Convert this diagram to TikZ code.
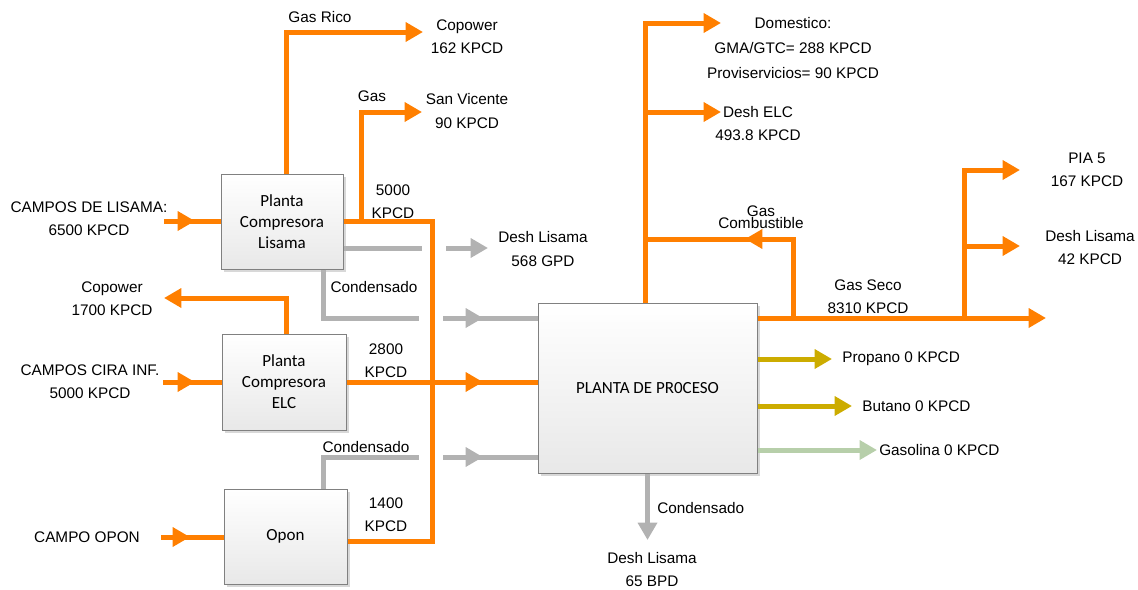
\documentclass[tikz,border=0pt]{standalone}
\usepackage{fontspec}
\setmainfont{Liberation Sans}
\newfontfamily\boxfont{Carlito}
\usetikzlibrary{arrows.meta,shadows,calc}
\definecolor{orflow}{RGB}{255,127,0}
\definecolor{grflow}{RGB}{178,178,178}
\definecolor{olflow}{RGB}{204,172,0}
\definecolor{gnflow}{RGB}{183,207,170}
\definecolor{boxgray}{RGB}{128,128,128}
\begin{document}
\begin{tikzpicture}[x=0.75pt,y=-0.75pt,
  tri/.tip={Triangle[length=13pt,width=14pt]},
  box/.style={draw=boxgray, line width=0.75pt, top color=white, bottom color=black!9,
    drop shadow={shadow xshift=2.25pt, shadow yshift=-2.25pt, fill=black!30, opacity=0.5},
    font=\boxfont\fontsize{12.75}{15.75}\selectfont, align=center, inner sep=0pt},
  of/.style={draw=orflow, line width=3.75pt},
  gf/.style={draw=grflow, line width=3.75pt},
  yf/.style={draw=olflow, line width=3.75pt},
  nf/.style={draw=gnflow, line width=3.75pt},
  lbl/.style={font=\fontsize{11.5}{17.5}\selectfont, align=center, inner sep=0pt},
]
\useasboundingbox (0,0) rectangle (1138,589);

% boxes
\node[box, minimum width=91.5pt, minimum height=71.25pt] (lis) at (282,221.5) {Planta\\Compresora\\Lisama};
\node[box, minimum width=93pt, minimum height=72pt] (elc) at (284,382) {Planta\\Compresora\\ELC};
\node[box, minimum width=92.25pt, minimum height=71.25pt] (opon) at (285.5,536.5) {Opon};
\node[box, minimum width=164.25pt, minimum height=127.5pt] (proc) at (647.5,388) {PLANTA DE PR0CESO};

% coordinates
\coordinate (cop162) at (423,32);
\coordinate (svJ) at (361,221);
\coordinate (svTip) at (422,112);
\coordinate (vTop) at (432,221);
\coordinate (vBot) at (432,541);
\coordinate (elcTip) at (483,382);
\coordinate (in1s) at (164,221);
\coordinate (in1t) at (195,221);
\coordinate (in2s) at (163,382);
\coordinate (in2t) at (195,382);
\coordinate (in3s) at (161,537);
\coordinate (in3t) at (190,537);
\coordinate (cop1700) at (164,298);
\coordinate (g1a) at (422,248);
\coordinate (g1b) at (446,248);
\coordinate (g1tip) at (488,248);
\coordinate (c1a) at (419,318);
\coordinate (c1b) at (443,318);
\coordinate (c1tip) at (483,318);
\coordinate (c2a) at (419,457);
\coordinate (c2b) at (443,457);
\coordinate (c2tip) at (483,457);
\coordinate (pbTip) at (647.5,540);
\coordinate (domTip) at (721,23);
\coordinate (j1) at (645,112);
\coordinate (delcTip) at (721,112);
\coordinate (gcJ) at (793,318);
\coordinate (gcTip) at (745,239);
\coordinate (gcEnd) at (645,239);
\coordinate (gsTip) at (1046,318);
\coordinate (pJ) at (964,318);
\coordinate (piaTip) at (1020,170);
\coordinate (pJ2) at (964,246);
\coordinate (dlTip) at (1020,246);
\coordinate (propTip) at (832,359);
\coordinate (butTip) at (852,406);
\coordinate (gasoTip) at (877,450);

% gray flows
\draw[gf] (lis.east |- g1a) -- (g1a);
\draw[gf,-tri] (g1b) -- (g1tip);
\draw[gf] ([xshift=30.75pt]lis.south) |- (c1a);
\draw[gf] (c1b) -- (proc.west |- c1tip);
\draw[gf,-tri] (c1b) -- (c1tip);
\draw[gf] ([xshift=28.125pt]opon.north) |- (c2a);
\draw[gf] (c2b) -- (proc.west |- c2tip);
\draw[gf,-tri] (c2b) -- (c2tip);
\draw[gf,-tri] (proc.south) -- (pbTip);

% orange flows left
\draw[of] (in1s) -- (lis.west |- in1t);
\draw[of,-tri] (in1s) -- (in1t);
\draw[of] (in2s) -- (elc.west |- in2t);
\draw[of,-tri] (in2s) -- (in2t);
\draw[of] (in3s) -- (opon.west |- in3t);
\draw[of,-tri] (in3s) -- (in3t);
\draw[of,-tri] ([xshift=3pt]lis.north) |- (cop162);
\draw[of,-tri] (svJ) |- (svTip);
\draw[of,line join=miter] (lis.east |- vTop) -- (vTop) -- (vBot) -- (opon.east |- vBot);
\draw[of] (elc.east) -- (proc.west |- elcTip);
\draw[of,-tri] (elc.east) -- (elcTip);
\draw[of,-tri] ([xshift=1.5pt]elc.north) |- (cop1700);

% orange flows right
\draw[of,-tri] ([xshift=-1.875pt]proc.north) |- (domTip);
\draw[of,-tri] (j1) -- (delcTip);
\draw[of,line join=miter] (gcJ) |- (gcEnd);
\draw[of,-tri] (gcJ) |- (gcTip);
\draw[of,-tri] (proc.east |- gsTip) -- (gsTip);
\draw[of,-tri] (pJ) |- (piaTip);
\draw[of,-tri] (pJ2) -- (dlTip);

% products
\draw[yf,-tri] (proc.east |- propTip) -- (propTip);
\draw[yf,-tri] (proc.east |- butTip) -- (butTip);
\draw[nf,-tri] (proc.east |- gasoTip) -- (gasoTip);

% labels
\node[lbl] (tGasRico) at (320,17) {Gas Rico};
\node[lbl] (tCop162) at (467,37) {Copower\\162 KPCD};
\node[lbl] (tGas) at (372,96) {Gas};
\node[lbl] (tSanV) at (467,111) {San Vicente\\90 KPCD};
\node[lbl] (t5000) at (393,202) {5000\\KPCD};
\node[lbl] (tDL568) at (543,249) {Desh Lisama\\568 GPD};
\node[lbl] (tCond1) at (374,287) {Condensado};
\node[lbl] (tLisIn) at (89,219) {CAMPOS DE LISAMA:\\6500 KPCD};
\node[lbl] (tCop1700) at (112,299) {Copower\\1700 KPCD};
\node[lbl] (tCira) at (90,382) {CAMPOS CIRA INF.\\5000 KPCD};
\node[lbl] (tOponIn) at (87,537) {CAMPO OPON};
\node[lbl] (t2800) at (386,361) {2800\\KPCD};
\node[lbl] (tCond2) at (366,447) {Condensado};
\node[lbl] (t1400) at (386,515) {1400\\KPCD};
\node[lbl, font=\fontsize{11.5}{18.75}\selectfont] (tDom) at (793,48) {Domestico:\\GMA/GTC= 288 KPCD\\Proviservicios= 90 KPCD};
\node[lbl] (tDELC) at (758,123.5) {Desh ELC\\493.8 KPCD};
\node[lbl, font=\fontsize{11.5}{9}\selectfont] (tGC) at (761,217) {Gas\\Combustible};
\node[lbl] (tGS) at (868,297) {Gas Seco\\8310 KPCD};
\node[lbl] (tPIA) at (1087,169.5) {PIA 5\\167 KPCD};
\node[lbl] (tDL42) at (1090,247.5) {Desh Lisama\\42 KPCD};
\node[lbl, anchor=west] (tProp) at (842,359) {Propano 0 KPCD};
\node[lbl, anchor=west] (tBut) at (862,406) {Butano 0 KPCD};
\node[lbl, anchor=west] (tGasol) at (879,450) {Gasolina 0 KPCD};
\node[lbl, anchor=west] (tCond3) at (657,508) {Condensado};
\node[lbl] (tDL65) at (652,569.5) {Desh Lisama\\65 BPD};
\end{tikzpicture}
\end{document}
